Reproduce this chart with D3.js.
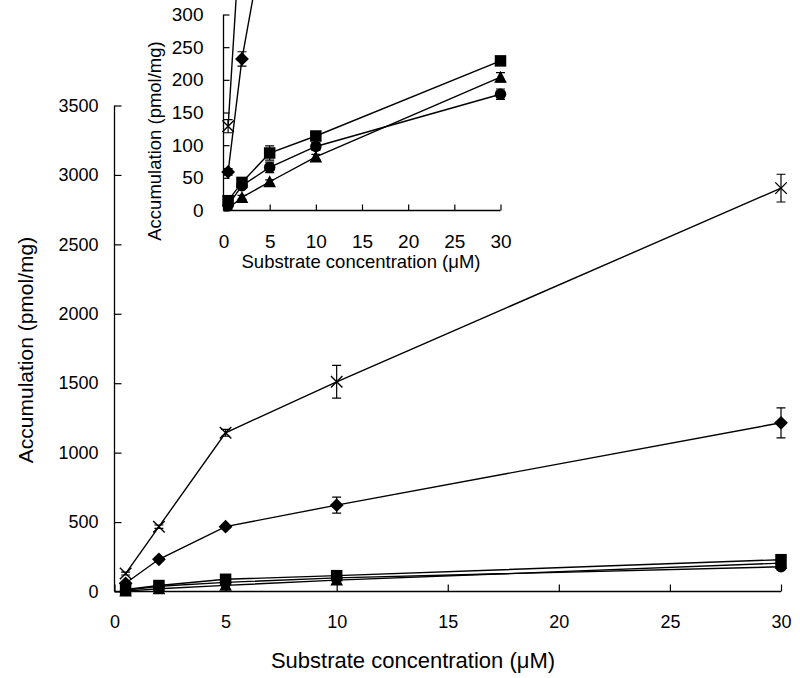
<!DOCTYPE html>
<html>
<head>
<meta charset="utf-8">
<script src="https://cdn.jsdelivr.net/npm/d3@7"></script>
<style>
  body { margin: 0; background: #fff; }
  svg { display: block; font-family: "Liberation Sans", Arial, sans-serif; }
</style>
</head>
<body>
<svg id="chart" width="800" height="678"></svg>
<script>
// ---- data ----
const concentrations = [0.5, 2, 5, 10, 30];
const crossValues    = [129, 467, 1143, 1510, 2905];
const crossErrors    = [10, 12, 25, 118, 100];
const diamondValues  = [59, 232, 467, 622, 1215];
const diamondErrors  = [5, 11, 12, 58, 108];
const squareValues   = [15, 43, 88, 114, 229];
const squareErrors   = [3, 3, 11, 5, 5];
const circleValues   = [8, 38, 66, 98, 178];
const circleErrors   = [3, 3, 8, 6, 8];
const triangleValues = [3, 20, 44, 82, 204];
const triangleErrors = [2, 3, 3, 4, 7];

const mainXTicks = [0, 5, 10, 15, 20, 25, 30];
const mainYTicks = [0, 500, 1000, 1500, 2000, 2500, 3000, 3500];
const insetXTicks = [0, 5, 10, 15, 20, 25, 30];
const insetYTicks = [0, 50, 100, 150, 200, 250, 300];

const xTitle = "Substrate concentration (\u03bcM)";
const yTitle = "Accumulation (pmol/mg)";

const series = [
  {name: "cross",    values: crossValues,    errors: crossErrors,    marker: "cross"},
  {name: "diamond",  values: diamondValues,  errors: diamondErrors,  marker: "diamond"},
  {name: "circle",   values: circleValues,   errors: circleErrors,   marker: "circle"},
  {name: "triangle", values: triangleValues, errors: triangleErrors, marker: "triangle"},
  {name: "square",   values: squareValues,   errors: squareErrors,   marker: "square"}
];

const svg = d3.select("#chart");

function drawMarker(g, type, x, y, s) {
  if (type === "square") {
    g.append("rect").attr("x", x - s/2).attr("y", y - s/2).attr("width", s).attr("height", s).attr("fill", "#000");
  } else if (type === "circle") {
    g.append("circle").attr("cx", x).attr("cy", y).attr("r", s/2).attr("fill", "#000");
  } else if (type === "triangle") {
    const h = s * 0.95, w = s * 1.1;
    g.append("path").attr("d", `M${x},${y - h/2 - 1}L${x + w/2},${y + h/2}L${x - w/2},${y + h/2}Z`).attr("fill", "#000");
  } else if (type === "diamond") {
    const d = s * 0.6;
    g.append("path").attr("d", `M${x},${y - d}L${x + d},${y}L${x},${y + d}L${x - d},${y}Z`).attr("fill", "#000");
  } else if (type === "cross") {
    const d = s / 2;
    g.append("path").attr("d", `M${x - d},${y - d}L${x + d},${y + d}M${x - d},${y + d}L${x + d},${y - d}`)
      .attr("stroke", "#000").attr("stroke-width", 1.4).attr("fill", "none");
  }
}

function drawPanel(cfg) {
  const g = svg.append("g");
  const x = d3.scaleLinear().domain([0, 30]).range([cfg.x0, cfg.x1]);
  const y = d3.scaleLinear().domain([0, cfg.ymax]).range([cfg.y0, cfg.y1]);

  const plot = g.append("g");
  if (cfg.clip) {
    svg.append("clipPath").attr("id", cfg.clip).append("rect")
      .attr("x", cfg.x0 - 20).attr("y", -200).attr("width", cfg.x1 - cfg.x0 + 40).attr("height", cfg.y0 + 200);
    plot.attr("clip-path", `url(#${cfg.clip})`);
  }

  // axes
  const xAxis = d3.axisBottom(x).tickValues(cfg.xTicks).tickSize(-cfg.tick).tickPadding(cfg.tick + cfg.xPad).tickFormat(d3.format("d"));
  const yAxis = d3.axisLeft(y).tickValues(cfg.yTicks).tickSize(-cfg.tick).tickPadding(cfg.tick + cfg.yPad).tickFormat(d3.format("d"));
  const gx = g.append("g").attr("transform", `translate(0,${cfg.y0})`).call(xAxis);
  const gy = g.append("g").attr("transform", `translate(${cfg.x0},0)`).call(yAxis);
  [gx, gy].forEach(a => {
    a.selectAll(".tick line").attr("stroke", "#000").attr("stroke-width", 1.2);
    a.selectAll(".tick text").attr("fill", "#000").style("font-size", cfg.tickFont + "px");
  });
  gx.select(".domain").remove();
  gy.select(".domain").remove();
  g.append("line").attr("x1", cfg.x0).attr("x2", cfg.x1).attr("y1", cfg.y0).attr("y2", cfg.y0).attr("stroke", "#000").attr("stroke-width", 1.3);
  g.append("line").attr("x1", cfg.x0).attr("x2", cfg.x0).attr("y1", cfg.y0).attr("y2", cfg.y1).attr("stroke", "#000").attr("stroke-width", 1.3);

  // titles
  g.append("text").attr("x", cfg.xTitleX).attr("y", cfg.xTitleY).attr("text-anchor", "middle")
    .style("font-size", cfg.titleFont + "px").attr("fill", "#000").text(xTitle);
  g.append("text").attr("transform", `translate(${cfg.yTitleX},${cfg.yTitleY}) rotate(-90)`).attr("text-anchor", "middle")
    .style("font-size", cfg.yTitleFont + "px").attr("fill", "#000").text(yTitle);

  // series
  const line = d3.line().x(d => x(d[0])).y(d => y(d[1]));
  series.forEach(s => {
    const pts = concentrations.map((c, i) => [c, s.values[i], s.errors[i]]);
    plot.append("path").datum(pts).attr("d", line).attr("fill", "none").attr("stroke", "#000").attr("stroke-width", 1.4);
  });
  series.forEach(s => {
    const pts = concentrations.map((c, i) => [c, s.values[i], s.errors[i]]);
    pts.forEach(p => {
      const px = x(p[0]), yt = y(p[1] + p[2]), yb = y(Math.max(0, p[1] - p[2]));
      const cw = 4.5;
      plot.append("path").attr("d", `M${px},${yt}L${px},${yb}M${px - cw},${yt}L${px + cw},${yt}M${px - cw},${yb}L${px + cw},${yb}`)
        .attr("stroke", "#000").attr("stroke-width", 1.2).attr("fill", "none");
      drawMarker(plot, s.marker, px, y(p[1]), 11.5);
    });
  });
}

// main chart
drawPanel({
  x0: 114.5, x1: 781, y0: 591.5, y1: 105.5, ymax: 3500,
  xTicks: mainXTicks, yTicks: mainYTicks, tick: 7, xPad: 17, yPad: 9,
  tickFont: 18, titleFont: 22, yTitleFont: 21,
  xTitleX: 413, xTitleY: 668, yTitleX: 33, yTitleY: 350
});

// inset chart
drawPanel({
  x0: 223.5, x1: 500.5, y0: 210.5, y1: 14.5, ymax: 300,
  xTicks: insetXTicks, yTicks: insetYTicks, tick: 6, xPad: 18, yPad: 14,
  tickFont: 19, titleFont: 18.5, yTitleFont: 18.5,
  xTitleX: 361, xTitleY: 268, yTitleX: 161, yTitleY: 141,
  clip: "insetClip"
});
</script>
</body>
</html>
